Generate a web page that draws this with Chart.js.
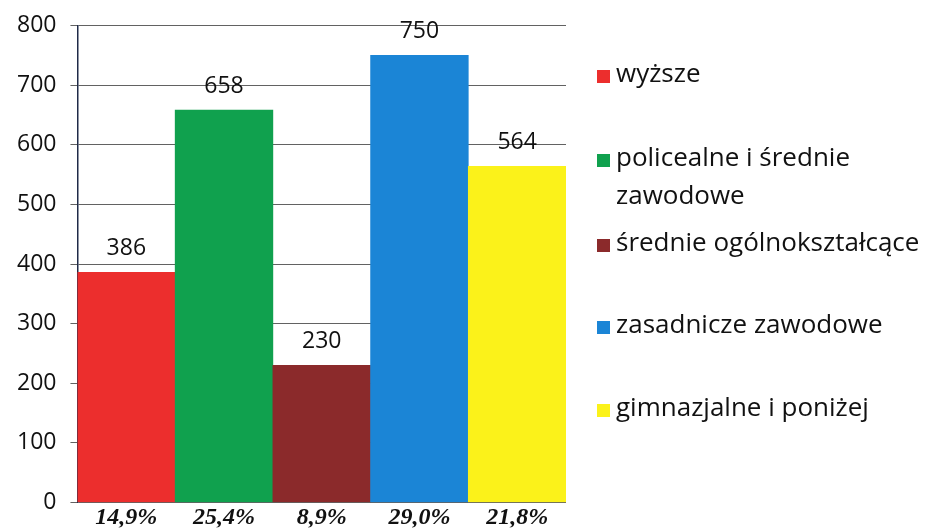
<!DOCTYPE html>
<html>
  <head>
    <meta charset="utf-8">
    <title>Wykształcenie</title>
    <script src="https://cdn.jsdelivr.net/npm/chart.js@4.4.0/dist/chart.umd.min.js"></script>
    <style>
      html, body { margin: 0; padding: 0; background: #fff; }
      #box { width: 929px; height: 528px; }
    </style>
  </head>
  <body>
    <div id="box"><canvas id="eduChart"></canvas></div>

    <script>
    // dane z wykresu
    const categories = ['wyższe', 'policealne i średnie zawodowe', 'średnie ogólnokształcące', 'zasadnicze zawodowe', 'gimnazjalne i poniżej'];
    const values = [386, 658, 230, 750, 564];
    const shares = ['14,9%', '25,4%', '8,9%', '29,0%', '21,8%'];
    const colors = ['#ec2e2d', '#10a14e', '#8b2a2b', '#1b85d6', '#fbf21a'];

    // y środka pierwszej linii każdej pozycji legendy
    const legendRows = [76, 160, 245, 327, 410];

    // etykiety wartości nad słupkami
    const valueLabels = {
      id: 'valueLabels',
      afterDatasetsDraw(chart) {
        const ctx = chart.ctx;
        const meta = chart.getDatasetMeta(0);
        ctx.save();
        ctx.font = '23px "Open Sans"';
        ctx.fillStyle = '#111';
        ctx.textAlign = 'center';
        ctx.textBaseline = 'middle';
        meta.data.forEach((bar, i) => {
          ctx.fillText(String(chart.data.datasets[0].data[i]), bar.x, bar.y - 24);
        });
        ctx.restore();
      }
    };

    // legenda po prawej stronie
    const sideLegend = {
      id: 'sideLegend',
      afterDraw(chart) {
        const ctx = chart.ctx;
        const x = chart.chartArea.right + 31;
        const maxW = 318;
        ctx.save();
        ctx.font = '26px "Open Sans"';
        ctx.textBaseline = 'middle';
        ctx.textAlign = 'left';
        categories.forEach((name, i) => {
          // proste łamanie wierszy
          let lines = [];
          let cur = '';
          name.split(' ').forEach(w => {
            const t = cur ? cur + ' ' + w : w;
            if (ctx.measureText(t).width > maxW && cur) {
              lines.push(cur);
              cur = w;
            } else {
              cur = t;
            }
          });
          lines.push(cur);

          const y = legendRows[i];
          ctx.fillStyle = colors[i];
          ctx.fillRect(x, y - 6, 13, 13);
          ctx.fillStyle = '#111';
          lines.forEach((l, j) => {
            ctx.fillText(l, x + 19, y - 1 + j * 38);
          });
        });
        ctx.restore();
      }
    };

    const ctx = document.getElementById('eduChart').getContext('2d');

    const chart = new Chart(ctx, {
      type: 'bar',
      data: {
        labels: shares,
        datasets: [{
          data: values,
          backgroundColor: colors,
          borderWidth: 0,
          categoryPercentage: 1.0,
          barPercentage: 1.0
        }]
      },
      options: {
        responsive: true,
        maintainAspectRatio: false,
        animation: false,
        layout: {
          padding: { top: 10, right: 363, left: 3, bottom: 0 }
        },
        plugins: {
          legend: { display: false },
          tooltip: { enabled: false }
        },
        scales: {
          x: {
            afterFit(scale) { scale.height = 25; },
            grid: { display: false, drawTicks: false },
            border: { display: false },
            ticks: {
              padding: 5,
              color: '#111',
              font: { family: '"Liberation Serif"', size: 24, style: 'italic', weight: 'bold', lineHeight: '20px' }
            }
          },
          y: {
            min: 0,
            max: 800,
            ticks: {
              stepSize: 100,
              padding: 14,
              color: '#111',
              font: { family: '"Open Sans"', size: 23, lineHeight: 1 }
            },
            grid: {
              color: '#626262',
              lineWidth: 1,
              tickLength: 7
            },
            border: { display: true, color: '#1f2a48', width: 1.5 }
          }
        }
      },
      plugins: [valueLabels, sideLegend]
    });
    </script>
  </body>
</html>
